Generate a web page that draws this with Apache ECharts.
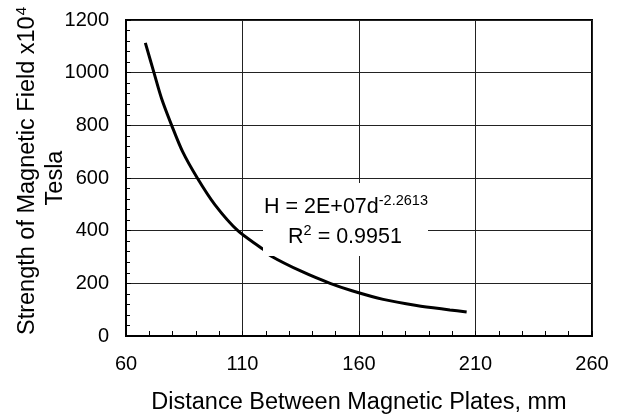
<!DOCTYPE html>
<html>
<head>
<meta charset="utf-8">
<script src="https://cdn.jsdelivr.net/npm/echarts@6/dist/echarts.min.js"></script>
<style>
html,body{margin:0;padding:0;background:#fff;}
#c{width:621px;height:414px;}
</style>
</head>
<body>
<div id="c"></div>
<script>
// Data
var distance = [68.3, 72.0, 75.3, 79.6, 84.3, 90.6, 98.2, 108.0, 118.9, 122.2, 135.4, 147.6, 157.0, 170.4, 184.7, 199.0, 206.2];
var strength = [1113, 1000, 901, 800, 700, 600, 498, 400, 329, 304, 245, 200, 172, 139, 116, 99, 91];
var xTicks = [60, 110, 160, 210, 260];
var yTicks = [0, 200, 400, 600, 800, 1000, 1200];
var xTitle = 'Distance Between Magnetic Plates, mm';
var yTitle1 = 'Strength of Magnetic Field x10';
var yTitleSup = '4';
var yTitle2 = 'Tesla';
var eqMain = 'H = 2E+07d';
var eqSup = '-2.2613';
var r2Text = '0.9951';

var FONT = 'Liberation Sans, Arial, Helvetica, sans-serif';
var chart = echarts.init(document.getElementById('c'), null, {renderer: 'canvas'});

var points = distance.map(function (d, i) { return [d, strength[i]]; });

var option = {
  backgroundColor: '#fff',
  animation: false,
  grid: {left: 126, right: 29, top: 20, bottom: 78, show: true, borderColor: '#000', borderWidth: 2,
    backgroundColor: 'transparent', containLabel: false, outerBoundsMode: 'none'},
  xAxis: {
    type: 'value', min: xTicks[0], max: xTicks[xTicks.length - 1], interval: xTicks[1] - xTicks[0],
    axisLine: {show: true, lineStyle: {color: '#000', width: 2}},
    axisTick: {show: true, inside: true, length: 5, lineStyle: {color: '#000'}},
    minorTick: {show: true, splitNumber: 5, length: 5, lineStyle: {color: '#000'}},
    splitLine: {show: true, lineStyle: {color: '#222', width: 1}},
    axisLabel: {color: '#000', fontSize: 20, fontFamily: FONT, margin: 18, formatter: function (v) { return String(v); }},
    name: xTitle, nameLocation: 'middle', nameGap: 55,
    nameTextStyle: {color: '#000', fontSize: 23.5, fontFamily: FONT}
  },
  yAxis: {
    type: 'value', min: yTicks[0], max: yTicks[yTicks.length - 1], interval: yTicks[1] - yTicks[0],
    axisLine: {show: true, lineStyle: {color: '#000', width: 2}},
    axisTick: {show: true, inside: true, length: 5, lineStyle: {color: '#000'}},
    minorTick: {show: true, splitNumber: 5, length: 4, lineStyle: {color: '#000'}},
    splitLine: {show: true, lineStyle: {color: '#222', width: 1}},
    axisLabel: {color: '#000', fontSize: 20, fontFamily: FONT, margin: 17, formatter: function (v) { return String(v); }}
  },
  series: [{
    type: 'line', data: points, smooth: 0.3, showSymbol: false, symbol: 'none',
    lineStyle: {color: '#000', width: 3}, z: 3
  }],
  graphic: [
    {
      type: 'text', x: 28, y: 171, rotation: Math.PI / 2, z: 100,
      style: {
        text: '{a|' + yTitle1 + '}{s|' + yTitleSup + '}',
        align: 'center', verticalAlign: 'middle',
        rich: {
          a: {fontSize: 23.5, fontFamily: FONT, fill: '#000', lineHeight: 28},
          s: {fontSize: 15, fontFamily: FONT, fill: '#000', lineHeight: 28, padding: [0, 0, 13, 1]}
        }
      }
    },
    {
      type: 'text', x: 56, y: 178, rotation: Math.PI / 2, z: 100,
      style: {text: yTitle2, align: 'center', verticalAlign: 'middle', fontSize: 23.5, fontFamily: FONT, fill: '#000'}
    },
    {
      type: 'rect', z: 100, shape: {x: 263, y: 183, width: 165, height: 73},
      style: {fill: '#fff'}
    },
    {
      type: 'text', x: 346, y: 207, z: 101,
      style: {
        text: '{a|' + eqMain + '}{s|' + eqSup + '}',
        align: 'center', verticalAlign: 'middle',
        rich: {
          a: {fontSize: 21.5, fontFamily: FONT, fill: '#000', lineHeight: 26},
          s: {fontSize: 14.5, fontFamily: FONT, fill: '#000', lineHeight: 26, padding: [0, 0, 12, 0]}
        }
      }
    },
    {
      type: 'text', x: 345, y: 237, z: 101,
      style: {
        text: '{a|R}{s|2}{a| = ' + r2Text + '}',
        align: 'center', verticalAlign: 'middle',
        rich: {
          a: {fontSize: 21.5, fontFamily: FONT, fill: '#000', lineHeight: 26},
          s: {fontSize: 14.5, fontFamily: FONT, fill: '#000', lineHeight: 26, padding: [0, 0, 12, 0]}
        }
      }
    }
  ]
};
chart.setOption(option);
</script>
</body>
</html>
